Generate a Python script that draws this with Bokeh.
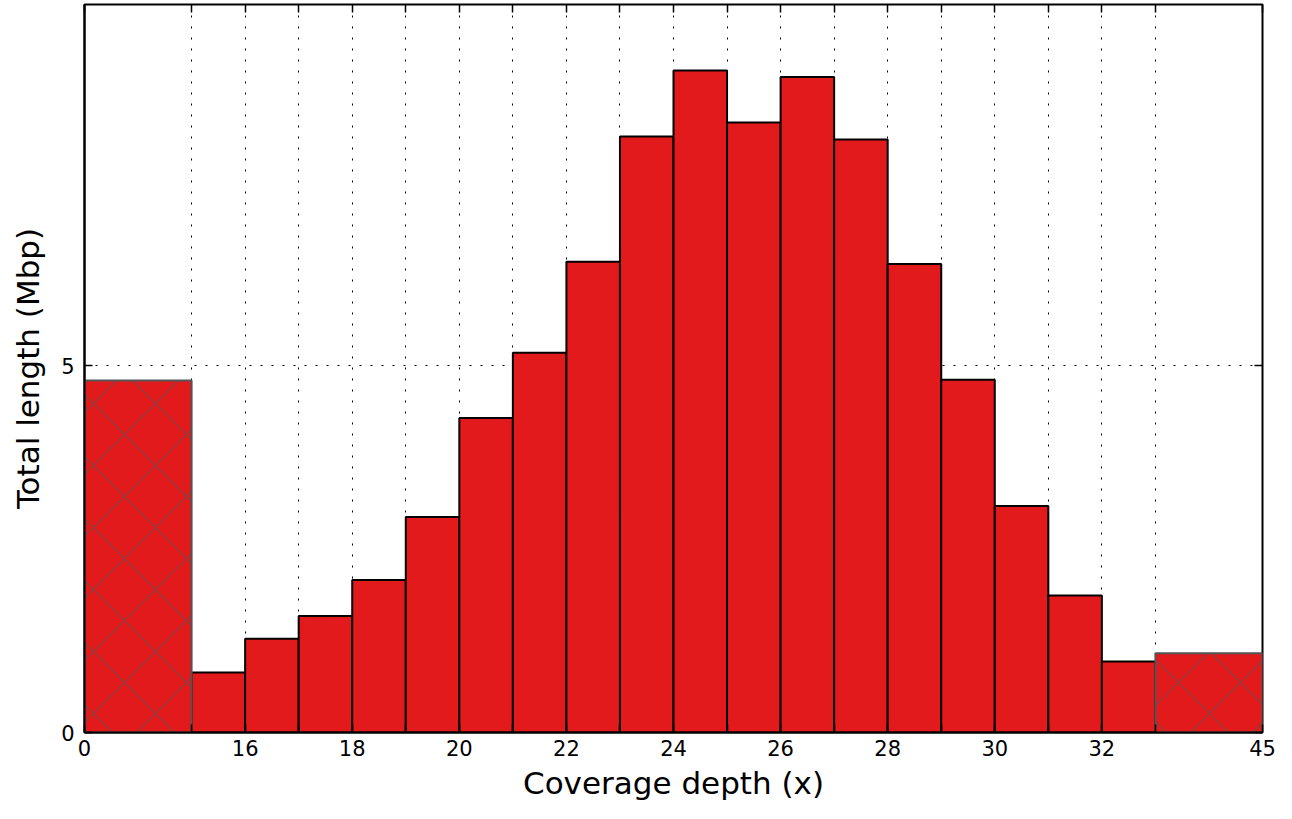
import numpy as np
from bokeh.plotting import figure
from bokeh.models import FixedTicker, Range1d, LinearAxis, ColumnDataSource
from bokeh.embed import file_html
from bokeh.resources import INLINE

# ---- data ----
bin_edges = [0, 15, 16, 17, 18, 19, 20, 21, 22, 23, 24, 25, 26, 27, 28, 29, 30, 31, 32, 33, 45]
total_mbp = [4.80, 0.82, 1.28, 1.59, 2.08, 2.94, 4.29, 5.18, 6.42, 8.13, 9.03,
             8.32, 8.94, 8.09, 6.39, 4.81, 3.09, 1.87, 0.97, 1.08]
is_outlier = [True] + [False] * 18 + [True]
tick_depths = [0, 16, 18, 20, 22, 24, 26, 28, 30, 32, 45]
y_ticks = [0, 5]

# display slots: outlier bins take two slots
slots = [2 if o else 1 for o in is_outlier]
pos = np.concatenate([[0], np.cumsum(slots)]).astype(float)
edge_pos = dict(zip(bin_edges, pos))

left = pos[:-1]
right = pos[1:]
top = np.array(total_mbp)
mask = np.array(is_outlier)

src_norm = ColumnDataSource(dict(left=left[~mask], right=right[~mask], top=top[~mask],
                                 bottom=np.zeros((~mask).sum())))
src_out = ColumnDataSource(dict(left=left[mask], right=right[mask], top=top[mask],
                                bottom=np.zeros(mask.sum())))

FONT = "DejaVu Sans"

p = figure(width=1276, height=803, output_backend="svg", toolbar_location=None,
           x_range=Range1d(0, pos[-1]), y_range=Range1d(0, 9.93),
           min_border_left=84, min_border_right=14, min_border_top=4, min_border_bottom=70)
p.background_fill_color = "white"
p.border_fill_color = "white"
p.outline_line_color = "black"
p.outline_line_width = 2

p.quad(left="left", right="right", top="top", bottom="bottom", source=src_norm,
       fill_color="#e31a1c", line_color="black", line_width=2)
p.quad(left="left", right="right", top="top", bottom="bottom", source=src_out,
       fill_color="#e31a1c", line_color="#555555", line_width=2,
       hatch_pattern="diagonal_cross", hatch_color="#555555", hatch_weight=1,
       hatch_scale=62)

all_ticks = list(pos)
labels = {float(v): "" for v in all_ticks}
for d in tick_depths:
    labels[float(edge_pos[d])] = str(d)

xa = p.xaxis[0]
xa.ticker = FixedTicker(ticks=all_ticks)
xa.major_label_overrides = labels
xa.axis_label = "Coverage depth (x)"
ya = p.yaxis[0]
ya.ticker = FixedTicker(ticks=y_ticks)
ya.axis_label = "Total length (Mbp)"

for ax in (xa, ya):
    ax.axis_line_color = "black"
    ax.axis_line_width = 2
    ax.major_tick_in = 8
    ax.major_tick_out = 0
    ax.major_tick_line_color = "black"
    ax.major_tick_line_width = 1.5
    ax.minor_tick_line_color = None
    ax.major_label_text_font = FONT
    ax.major_label_text_font_size = "21px"
    ax.major_label_text_color = "black"
    ax.axis_label_text_font = FONT
    ax.axis_label_text_font_size = "31px"
    ax.axis_label_text_font_style = "normal"
    ax.axis_label_text_color = "black"
xa.major_label_standoff = 7
xa.axis_label_standoff = 6
ya.major_label_standoff = 10
ya.axis_label_standoff = 12

# mirrored ticks on top and right
top_ax = LinearAxis(ticker=FixedTicker(ticks=all_ticks))
right_ax = LinearAxis(ticker=FixedTicker(ticks=y_ticks))
for ax in (top_ax, right_ax):
    ax.axis_line_color = None
    ax.major_tick_in = 8
    ax.major_tick_out = 0
    ax.major_tick_line_color = "black"
    ax.major_tick_line_width = 1.5
    ax.minor_tick_line_color = None
    ax.major_label_text_font_size = "0px"
    ax.major_label_standoff = 0
    ax.major_label_text_alpha = 0
p.add_layout(top_ax, "above")
p.add_layout(right_ax, "right")

p.xgrid.ticker = FixedTicker(ticks=all_ticks)
p.ygrid.ticker = FixedTicker(ticks=y_ticks)
for g in (p.xgrid[0], p.ygrid[0]):
    g.grid_line_color = "black"
    g.grid_line_width = 1
    g.grid_line_dash = "2 9"

open("out.html", "w").write(file_html(p, INLINE))
